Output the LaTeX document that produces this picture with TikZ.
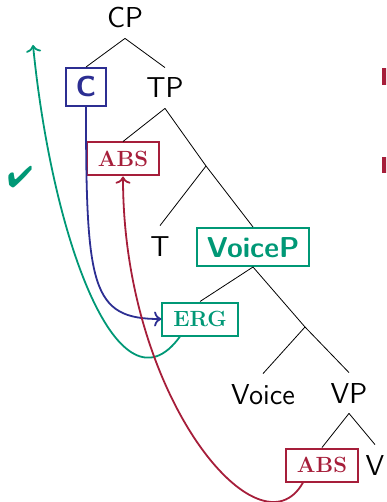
\documentclass[tikz,border=0pt]{standalone}
\usepackage{pifont}
\usetikzlibrary{arrows.meta}

\definecolor{abscol}{RGB}{166,30,58}
\definecolor{ergcol}{RGB}{0,152,118}
\definecolor{ccol}{RGB}{44,46,146}

\begin{document}
\begin{tikzpicture}[
    x=0.5pt, y=-0.5pt,
    lbl/.style={font=\fontsize{14.4}{17}\selectfont\sffamily,
                text height=10pt, text depth=0pt, inner sep=5pt},
    tag/.style={draw, line width=1pt, inner xsep=5pt, inner ysep=4.5pt,
                text height=10pt, text depth=0pt,
                font=\fontsize{14.4}{17}\selectfont\sffamily\bfseries},
    case/.style={tag, text height=7.5pt, inner xsep=5.5pt,
                 font=\fontsize{11}{13}\selectfont\rmfamily\bfseries},
    branch/.style={thin},
    move/.style={->, line width=0.9pt},
]
\clip (0,0) rectangle (386,502);

% tree
\node[lbl] (CP) at (125,18) {CP};
\node[tag, ccol] (C) at (86,87) {C};
\node[lbl] (TP) at (165,88) {TP};
\node[case, abscol] (abs1) at (123,159) {ABS};
\coordinate (tbar) at (206,166);
\node[lbl] (T) at (160,246) {T};
\node[tag, ergcol] (VoiceP) at (253,247) {VoiceP};
\node[case, ergcol] (erg) at (200,319) {ERG};
\coordinate (vbar) at (305,327);
\node[lbl] (Voice) at (263,394) {Voice};
\node[lbl] (VP) at (349,393) {VP};
\node[case, abscol] (abs2) at (322,465) {ABS};
\node[lbl] (V) at (375,465) {V};

\draw[branch] (CP.south) -- (C.north);
\draw[branch] (CP.south) -- (TP.north);
\draw[branch] (TP.south) -- (abs1.north);
\draw[branch] (TP.south) -- (tbar);
\draw[branch] (tbar) -- (T.north);
\draw[branch] (tbar) -- (VoiceP.north);
\draw[branch] (VoiceP.south) -- (erg.north);
\draw[branch] (VoiceP.south) -- (vbar);
\draw[branch] (vbar) -- (Voice.north);
\draw[branch] (vbar) -- (VP.north);
\draw[branch] (VP.south) -- (abs2.north);
\draw[branch] (VP.south) -- (V.north);

% agreement and movement
\coordinate (up) at (33,45);
\draw[move, ccol] (C.south) .. controls +(0,180) and +(-70,0) .. (erg.west);
\draw[move, ergcol] ([xshift=-10pt]erg.south) .. controls +(-60,83) and +(20,200) .. (up);
\draw[move, abscol] ([xshift=-9.5pt]abs2.south) .. controls +(-43,77) and +(0,222) .. (abs1.south);

\node[text=ergcol, font=\fontsize{15}{15}\selectfont] (tick) at (20,177) {\ding{52}};

% bullets of the slide text
\fill[abscol] (382,68) rectangle (392,85);
\fill[abscol] (382,157) rectangle (392,173);
\end{tikzpicture}
\end{document}
